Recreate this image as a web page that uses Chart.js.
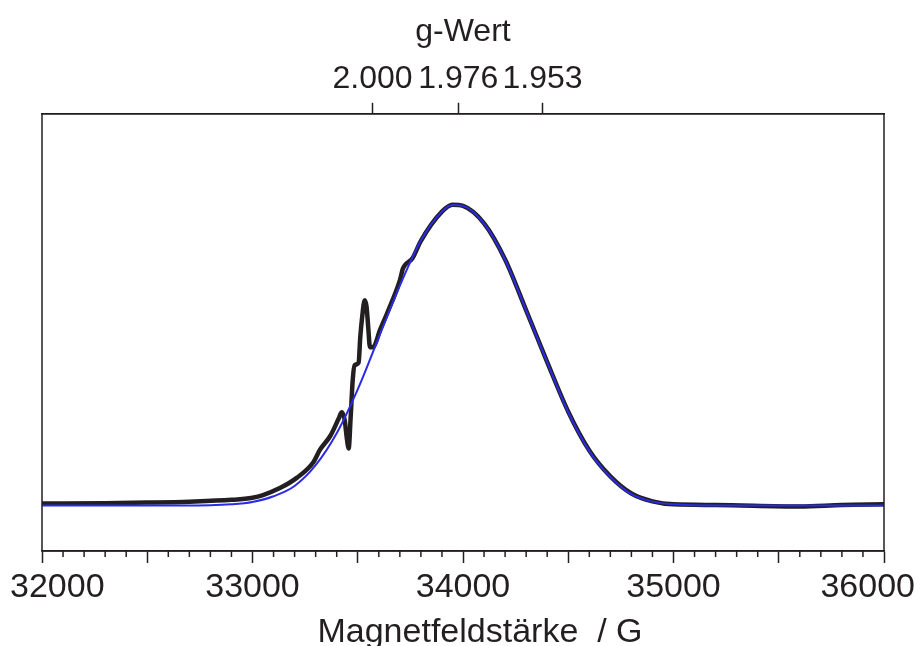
<!DOCTYPE html>
<html>
<head>
<meta charset="utf-8">
<script src="https://cdn.jsdelivr.net/npm/chart.js@4.4.1/dist/chart.umd.min.js"></script>
<style>
  html, body { margin: 0; padding: 0; background: #fff; overflow: hidden; }
  #wrap { width: 920px; height: 646px; overflow: hidden; }
</style>
</head>
<body>
<div id="wrap"><canvas id="epr" width="920" height="660" style="width:920px;height:660px"></canvas></div>
<script>
// bottom axis labels and the g-value ticks of the top axis
const fieldTicks = [32000, 33000, 34000, 35000, 36000];
const fieldTitle = 'Magnetfeldstärke  / G';
const gValues = [2.000, 1.976, 1.953];
const gLabels = ['2.000', '1.976', '1.953'];
const gTimesField = 67140; // g * B (Gauss) for this spectrometer frequency

// simulation (blue)
const fitField = [32000, 32500, 32800, 32900, 33000, 33100, 33200, 33300, 33400, 33500,
  33600, 33700, 33800, 33900, 33950, 34000, 34100, 34200, 34300, 34400,
  34500, 34600, 34700, 34800, 34900, 35000, 35200, 36000];
const fitSignal = [0, 0, 0.001, 0.004, 0.012, 0.031, 0.065, 0.134, 0.240, 0.386,
  0.559, 0.731, 0.881, 0.977, 0.999, 0.996, 0.937, 0.817, 0.648, 0.476,
  0.310, 0.181, 0.095, 0.038, 0.013, 0.004, 0, 0];

// measured spectrum (black)
const expField = [32000, 32300, 32500, 32700, 32900, 33000, 33050, 33130, 33210, 33290,
  33320, 33370, 33410, 33424, 33438, 33447, 33457, 33466, 33476, 33485,
  33504, 33512, 33520, 33533, 33542, 33550, 33558, 33575, 33605, 33640,
  33700, 33715, 33760, 33800, 33900, 33950, 34000, 34100, 34200, 34300,
  34400, 34500, 34600, 34700, 34800, 34900, 35000, 35200, 35600, 35800, 36000];
const expSignal = [0.007, 0.008, 0.010, 0.013, 0.019, 0.026, 0.035, 0.058, 0.092, 0.145,
  0.185, 0.232, 0.290, 0.310, 0.284, 0.230, 0.190, 0.290, 0.416, 0.466,
  0.475, 0.560, 0.620, 0.682, 0.660, 0.590, 0.526, 0.528, 0.582, 0.640,
  0.748, 0.788, 0.822, 0.880, 0.977, 1.000, 0.996, 0.938, 0.818, 0.649,
  0.477, 0.312, 0.183, 0.097, 0.040, 0.014, 0.004, 0.002, -0.003, 0.002, 0.004];

const ink = '#231f20';
const fontFamily = '"Liberation Sans", Arial, Helvetica, sans-serif';

const axisExtras = {
  id: 'axisExtras',
  afterDraw(chart) {
    const ctx = chart.ctx;
    const a = chart.chartArea;
    const x = chart.scales.x;
    ctx.save();
    ctx.strokeStyle = ink;
    ctx.lineWidth = 1.5;
    ctx.strokeRect(a.left, a.top, a.right - a.left, a.bottom - a.top);
    // minor ticks every 100 G
    for (let v = 32000; v <= 36000; v += 100) {
      if (v % 500 === 0) continue;
      const px = x.getPixelForValue(v);
      ctx.beginPath();
      ctx.moveTo(px, a.bottom);
      ctx.lineTo(px, a.bottom + 6);
      ctx.stroke();
    }
    // tick labels, kept inside the canvas at the ends
    ctx.font = '34px ' + fontFamily;
    ctx.fillStyle = ink;
    ctx.textAlign = 'center';
    ctx.textBaseline = 'alphabetic';
    fieldTicks.forEach(v => {
      const txt = String(v);
      const w = ctx.measureText(txt).width;
      let px = x.getPixelForValue(v);
      px = Math.min(Math.max(px, 10 + w / 2), chart.width - 5 - w / 2);
      ctx.fillText(txt, px, a.bottom + 46);
    });
    // axis title, a little right of centre as in the original
    ctx.fillText(fieldTitle, (a.left + a.right) / 2 + 17, a.bottom + 91);
    ctx.restore();
  }
};

new Chart(document.getElementById('epr'), {
  type: 'line',
  data: {
    datasets: [{
      label: 'Simulation',
      data: fitField.map((b, i) => ({ x: b, y: fitSignal[i] })),
      borderColor: '#2b2be6',
      borderWidth: 2,
      pointRadius: 0,
      cubicInterpolationMode: 'monotone',
      xAxisID: 'x'
    }, {
      label: 'Messung',
      data: expField.map((b, i) => ({ x: b, y: expSignal[i] })),
      borderColor: ink,
      borderWidth: 4.5,
      pointRadius: 0,
      cubicInterpolationMode: 'monotone',
      xAxisID: 'x'
    }]
  },
  options: {
    responsive: false,
    animation: false,
    events: [],
    layout: { padding: { left: 42, right: 36, top: 0, bottom: 97 } },
    plugins: { legend: { display: false }, tooltip: { enabled: false } },
    scales: {
      x: {
        type: 'linear', position: 'bottom', min: 32000, max: 36000,
        ticks: { stepSize: 500, display: false },
        grid: { drawOnChartArea: false, tickLength: 12, tickColor: ink, tickWidth: 1.5 },
        border: { display: true, color: ink, width: 1.5 }
      },
      x2: {
        type: 'linear', position: 'top', min: 32000, max: 36000,
        afterBuildTicks: s => { s.ticks = gValues.map(g => ({ value: gTimesField / g })); },
        ticks: {
          callback: (v, i) => gLabels[i],
          autoSkip: false, maxRotation: 0, padding: 4, color: ink,
          font: { family: fontFamily, size: 32 }
        },
        grid: { drawOnChartArea: false, tickLength: 11, tickColor: ink, tickWidth: 1.5 },
        border: { display: true, color: ink, width: 1.5 },
        title: {
          display: true, text: 'g-Wert', color: ink,
          font: { family: fontFamily, size: 32 },
          padding: { top: 13, bottom: 5 }
        }
      },
      y: { display: false, min: -0.151, max: 1.302 }
    }
  },
  plugins: [axisExtras]
});
</script>
</body>
</html>
